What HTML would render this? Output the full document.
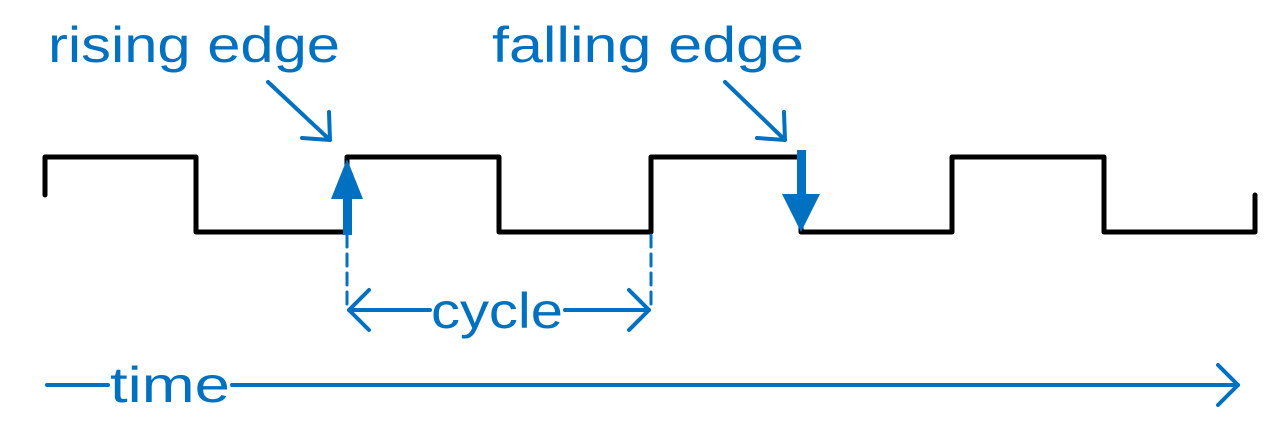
<!DOCTYPE html>
<html><head><meta charset="utf-8"><style>html,body{margin:0;padding:0;background:#fff}svg{display:block}</style></head>
<body>
<svg width="1287" height="436" viewBox="0 0 1287 436" xmlns="http://www.w3.org/2000/svg">
<g fill="none" stroke="#000" stroke-width="5" stroke-linejoin="round" stroke-linecap="round">
<polyline points="45,195 45,157 196,157 196,232 347,232 347,157 499,157 499,232 651,232 651,157 801,157 801,232 952,232 952,157 1104,157 1104,232 1255,232 1255,195"/>
</g>
<g fill="#0070c0" stroke="none">
<rect x="343" y="195" width="9" height="40"/>
<polygon points="331,199 347,159 363,199"/>
<rect x="797" y="150" width="9" height="46"/>
<polygon points="782,194 801,232 820,194"/>
</g>
<g fill="none" stroke="#0070c0" stroke-width="4" stroke-linecap="round" stroke-linejoin="round">
<line x1="268" y1="82" x2="330" y2="140"/>
<polyline points="302,138 330,140 329,112"/>
<line x1="725" y1="82" x2="785" y2="140"/>
<polyline points="757,138 785,140 784,112"/>
<line x1="347" y1="235" x2="347" y2="305" stroke-dasharray="12,7" stroke-width="3"/>
<line x1="651" y1="235" x2="651" y2="305" stroke-dasharray="12,7" stroke-width="3"/>
<line x1="349" y1="310" x2="430" y2="310"/>
<line x1="565" y1="310" x2="649" y2="310"/>
<polyline points="369,290 349,310 369,330"/>
<polyline points="629,290 649,310 629,330"/>
<line x1="47" y1="385" x2="108" y2="385"/>
<line x1="232" y1="385" x2="1238" y2="385"/>
<polyline points="1218,365 1238,385 1218,405"/>
</g>
<g fill="#0070c0" font-family="Liberation Sans, sans-serif" font-size="50">
<text x="48" y="62" textLength="292" lengthAdjust="spacingAndGlyphs">rising edge</text>
<text x="492" y="62" textLength="312" lengthAdjust="spacingAndGlyphs">falling edge</text>
<text x="431" y="328" textLength="132" lengthAdjust="spacingAndGlyphs">cycle</text>
<text x="110" y="402" textLength="120" lengthAdjust="spacingAndGlyphs">time</text>
</g>
</svg>
</body></html>
